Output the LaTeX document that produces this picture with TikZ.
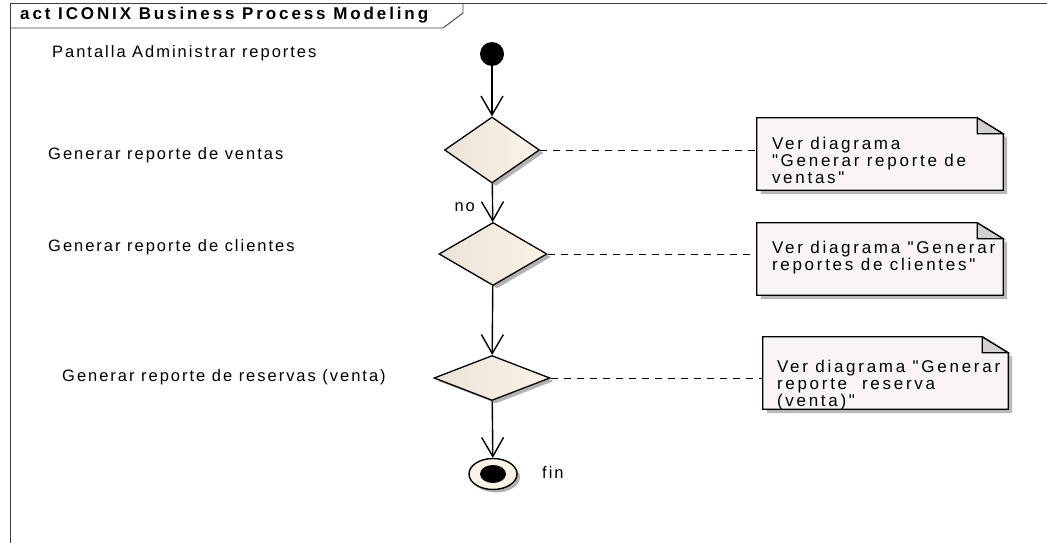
\documentclass[tikz,border=0pt]{standalone}
\usepackage{fontspec}
\setmainfont{Liberation Sans}[LetterSpace=12, Ligatures=TeXOff]
\newfontfamily\titlefont{Liberation Sans}[LetterSpace=17, Ligatures=TeXOff]
\newfontfamily\notefont{Liberation Sans}[LetterSpace=16, Ligatures=TeXOff]
\usetikzlibrary{arrows.meta, shapes.geometric, shadows, positioning}
\definecolor{notefill}{HTML}{F8F4F7}
\definecolor{foldfill}{HTML}{D3CFD3}
\definecolor{decleft}{HTML}{ECE3D6}
\definecolor{decright}{HTML}{FBF3E6}

\begin{document}
\begin{tikzpicture}[x=1pt, y=-1pt,
  flow/.style={line width=1.4pt, -{Straight Barb[length=19pt, width=22pt]}},
  notelink/.style={line width=0.9pt, dash pattern=on 7pt off 6pt},
  decision/.style={diamond, draw, line width=1.3pt, inner sep=0pt, left color=decleft, right color=decright,
    drop shadow={shadow xshift=4pt, shadow yshift=-3pt, fill=black!30, opacity=1}},
  notebox/.style={rectangle, inner sep=0pt},
  notetext/.style={anchor=north west, inner sep=0pt, align=left, font=\notefont\fontsize{17}{17}\selectfont},
  actname/.style={anchor=west, inner sep=0pt, font=\fontsize{16.5}{18}\selectfont},
  frameline/.style={line width=0.9pt, black!75}]

  \useasboundingbox (0,0) rectangle (1047,543);

  % frame and title
  \draw[frameline] (10,560) -- (10,3) -- (1060,3);
  \draw[frameline] (10,28) -- (443,28) -- (463,13) -- (463,3);
  \node[actname, font=\titlefont\fontsize{17}{18}\selectfont\bfseries] (title) at (20,15) {act ICONIX Business Process Modeling};

  % activity names on the left
  \node[actname] (act0) at (52,53) {Pantalla Administrar reportes};
  \node[actname] (act1) at (48,155) {Generar reporte de ventas};
  \node[actname] (act2) at (48,247) {Generar reporte de clientes};
  \node[actname] (act3) at (62,377) {Generar reporte de reservas (venta)};

  % start, decisions, end
  \node[circle, fill=black, minimum size=24pt, inner sep=0pt] (start) at (492,54) {};
  \node[decision, minimum width=95pt, minimum height=66pt] (d1) at (492,150) {};
  \node[decision, minimum width=108pt, minimum height=63pt] (d2) at (493,254) {};
  \node[decision, minimum width=116pt, minimum height=45pt] (d3) at (492,378) {};
  \node[ellipse, draw, line width=1.4pt, fill=decright, minimum width=48pt, minimum height=31pt, inner sep=0pt,
    drop shadow={shadow xshift=3pt, shadow yshift=-3pt, fill=black!30, opacity=1}] (end) at (493,474) {};
  \fill (end.center) ellipse [x radius=13, y radius=9];
  \node[actname] (finlbl) at (542,473) {fin};

  % control flow
  \draw[flow] (start) -- (d1);
  \draw[flow] (d1) -- node[pos=0.62, left=17pt, inner sep=0pt, font=\fontsize{16.5}{18}\selectfont] (nolbl) {no} (d2);
  \draw[flow] (d2) -- (d3);
  \draw[flow] (d3) -- (end);

  % notes
  \node[notebox, minimum width=246pt, minimum height=72pt] (n1) at (880,154) {};
  \node[notebox, minimum width=246pt, minimum height=72pt] (n2) at (880,259) {};
  \node[notebox, minimum width=245pt, minimum height=72pt] (n3) at (885.5,373) {};
  \foreach \n in {n1,n2,n3}{
    \fill[black!28] ([shift={(4,4)}]\n.south west) -- ([shift={(4,4)}]\n.north west)
      -- ([shift={(-22,4)}]\n.north east) -- ([shift={(4,20)}]\n.north east) -- ([shift={(4,4)}]\n.south east) -- cycle;
    \draw[line width=1.3pt, fill=notefill] (\n.south west) -- (\n.north west) -- ([shift={(-26,0)}]\n.north east)
      -- ([shift={(0,16)}]\n.north east) -- (\n.south east) -- cycle;
    \draw[line width=1.3pt, fill=foldfill] ([shift={(-26,0)}]\n.north east) -- ([shift={(-26,16)}]\n.north east)
      -- ([shift={(0,16)}]\n.north east) -- cycle;
  }
  \node[notetext] (t1) at ([shift={(15,19)}]n1.north west) {Ver diagrama\\"Generar reporte de\\ventas"};
  \node[notetext] (t2) at ([shift={(15,18)}]n2.north west) {Ver diagrama "Generar\\reportes de clientes"};
  \node[notetext] (t3) at ([shift={(14,23)}]n3.north west) {Ver diagrama "Generar\\reporte~ reserva\\(venta)"};

  % note links
  \draw[notelink] (d1.east) -- (d1.east -| n1.west);
  \draw[notelink] (d2.east) -- (d2.east -| n2.west);
  \draw[notelink] (d3.east) -- (d3.east -| n3.west);
\end{tikzpicture}
\end{document}
